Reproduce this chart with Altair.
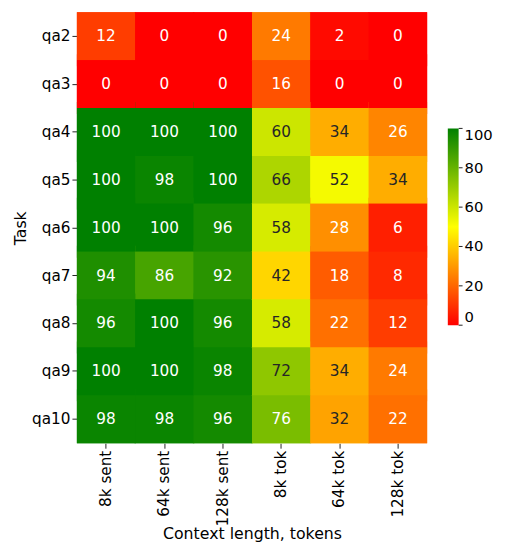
import altair as alt
import pandas as pd

tasks = ["qa2", "qa3", "qa4", "qa5", "qa6", "qa7", "qa8", "qa9", "qa10"]
contexts = ["8k sent", "64k sent", "128k sent", "8k tok", "64k tok", "128k tok"]
values = [
    [12, 0, 0, 24, 2, 0],
    [0, 0, 0, 16, 0, 0],
    [100, 100, 100, 60, 34, 26],
    [100, 98, 100, 66, 52, 34],
    [100, 100, 96, 58, 28, 6],
    [94, 86, 92, 42, 18, 8],
    [96, 100, 96, 58, 22, 12],
    [100, 100, 98, 72, 34, 24],
    [98, 98, 96, 76, 32, 22],
]
bar_ticks = [0, 20, 40, 60, 80, 100]

rows = []
for t, vals in zip(tasks, values):
    for c, v in zip(contexts, vals):
        rows.append({"Task": t, "Context": c, "v": v})
df = pd.DataFrame(rows)
tick_df = pd.DataFrame({"t": bar_ticks})

FONT = "DejaVu Sans"
W, H = 356, 438

x = alt.X("Context:N", sort=contexts, title="Context length, tokens",
          scale=alt.Scale(paddingInner=0, paddingOuter=0),
          axis=alt.Axis(labelAngle=270, labelFontSize=15.5, titleFontSize=16,
                        labelFont=FONT, titleFont=FONT, domain=False,
                        tickSize=5, tickColor="#222222", labelColor="#000000",
                        titleColor="#000000", labelPadding=2,
                        labelBaseline="middle", labelAlign="right",
                        titleFontWeight="normal", titleY=97,
                        titleBaseline="alphabetic"))
y = alt.Y("Task:N", sort=tasks, title="Task",
          scale=alt.Scale(paddingInner=0, paddingOuter=0),
          axis=alt.Axis(labelAngle=0, labelFontSize=15.5, titleFontSize=16,
                        labelFont=FONT, titleFont=FONT, domain=False,
                        tickSize=5, tickColor="#222222", labelColor="#000000",
                        titleColor="#000000", labelPadding=2,
                        titleFontWeight="normal", titleX=-52,
                        titleBaseline="alphabetic"))

cscale = alt.Scale(domain=[0, 50, 100], range=["red", "yellow", "green"], interpolate="rgb")
legend = alt.Legend(title=None, orient="none", legendX=377, legendY=118,
                    direction="vertical", gradientLength=200,
                    gradientThickness=11, labelFontSize=15,
                    labelFont=FONT, labelColor="#000000",
                    values=bar_ticks, type="gradient",
                    labelBaseline="middle", labelOffset=6,
                    gradientStrokeWidth=0)

# backing squares (clipped) hide anti-aliasing seams between cells
back = alt.Chart(df).mark_square(filled=True, opacity=1, size=3700, clip=True).encode(
    x=alt.X("Context:N", sort=contexts),
    y=alt.Y("Task:N", sort=tasks),
    color=alt.Color("v:Q", scale=cscale, legend=legend),
)

rect = alt.Chart(df).mark_rect(strokeWidth=0).encode(
    x=x, y=y,
    color=alt.Color("v:Q", scale=cscale, legend=legend),
)

text = alt.Chart(df).mark_text(fontSize=15.5, font=FONT).encode(
    x=alt.X("Context:N", sort=contexts),
    y=alt.Y("Task:N", sort=tasks),
    text=alt.Text("v:Q"),
    color=alt.condition("datum.v >= 30 && datum.v <= 74",
                        alt.value("#262626"), alt.value("#ffffff")),
)

cbar_ticks = alt.Chart(tick_df).mark_rule(color="#222222", strokeWidth=1).encode(
    y=alt.Y("t:Q", scale=alt.Scale(domain=[0, 100], range=[318, 118]), axis=None),
    x=alt.value(388),
    x2=alt.value(392),
)

heat = alt.layer(back, rect, text)

chart = alt.layer(heat, cbar_ticks).resolve_scale(y="independent").properties(
    width=W, height=H,
    autosize=alt.AutoSizeParams(type="none"),
    padding={"left": 70, "top": 0, "right": 71, "bottom": 98},
).configure_view(strokeWidth=0)

chart.save("out.html", embed_options={"renderer": "svg", "actions": False})
